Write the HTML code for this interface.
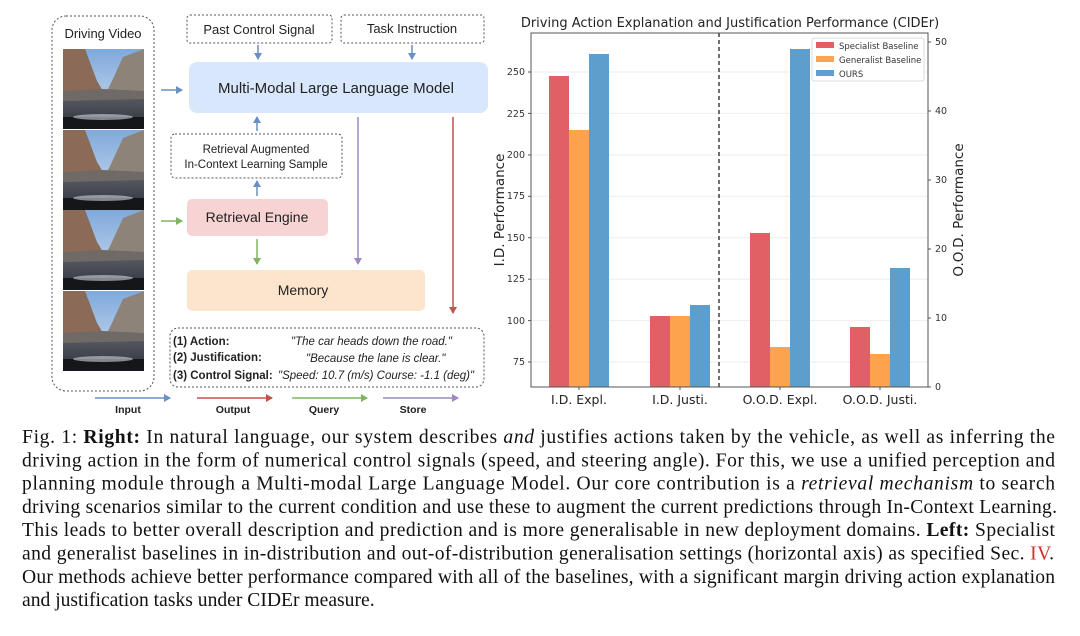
<!DOCTYPE html>
<html><head><meta charset="utf-8"><style>
html,body{margin:0;padding:0;background:#fff;}
svg{display:block;}
</style></head><body>
<svg width="1080" height="636" viewBox="0 0 1080 636" xmlns="http://www.w3.org/2000/svg">
<defs>
<linearGradient id="sky" x1="0" y1="0" x2="0" y2="1"><stop offset="0" stop-color="#7fa9dc"/><stop offset="1" stop-color="#d5e2ee"/></linearGradient>
<linearGradient id="road" x1="0" y1="0" x2="0" y2="1"><stop offset="0" stop-color="#5a5e66"/><stop offset="1" stop-color="#2e3038"/></linearGradient>
<g id="frame">
<rect x="0" y="0" width="81" height="80" fill="url(#sky)"/>
<polygon points="0,0 22,0 34,32 40,42 0,48" fill="#8b6b57"/>
<polygon points="81,0 60,8 48,34 44,42 81,52" fill="#8e8378"/>
<polygon points="0,45 81,45 81,80 0,80" fill="url(#road)"/>
<polygon points="0,42 40,40 81,42 81,50 0,52" fill="#6f6a66"/>
<rect x="0" y="68" width="81" height="12" fill="#15161a"/>
<ellipse cx="40" cy="68" rx="30" ry="3" fill="#cfd3da" opacity="0.6"/>
</g>
<marker id="aB" markerWidth="8" markerHeight="8" refX="6" refY="4" orient="auto" markerUnits="userSpaceOnUse"><path d="M0,0 L7,4 L0,8 Z" fill="#6b8fc2"/></marker>
<marker id="aR" markerWidth="8" markerHeight="8" refX="6" refY="4" orient="auto" markerUnits="userSpaceOnUse"><path d="M0,0 L7,4 L0,8 Z" fill="#c7504f"/></marker>
<marker id="aG" markerWidth="8" markerHeight="8" refX="6" refY="4" orient="auto" markerUnits="userSpaceOnUse"><path d="M0,0 L7,4 L0,8 Z" fill="#7fb562"/></marker>
<marker id="aP" markerWidth="8" markerHeight="8" refX="6" refY="4" orient="auto" markerUnits="userSpaceOnUse"><path d="M0,0 L7,4 L0,8 Z" fill="#9f88bd"/></marker>
</defs>

<!-- LEFT DIAGRAM -->
<g font-family="Liberation Sans, sans-serif" fill="#222">
<rect x="52" y="16" width="102" height="375" rx="14" fill="none" stroke="#555" stroke-dasharray="2,2"/>
<text x="103" y="38" font-size="13" text-anchor="middle">Driving Video</text>
<use href="#frame" x="63" y="49"/>
<use href="#frame" x="63" y="130"/>
<use href="#frame" x="63" y="210"/>
<use href="#frame" x="63" y="291"/>

<rect x="187" y="15" width="145" height="28" rx="3" fill="none" stroke="#555" stroke-dasharray="2,2"/>
<text x="259" y="34" font-size="13" text-anchor="middle">Past Control Signal</text>
<rect x="341" y="15" width="143" height="28" rx="3" fill="none" stroke="#555" stroke-dasharray="2,2"/>
<text x="412" y="33" font-size="13" text-anchor="middle">Task Instruction</text>

<rect x="189" y="62" width="299" height="51" rx="8" fill="#d8e7fb"/>
<text x="336" y="93" font-size="15" text-anchor="middle">Multi-Modal Large Language Model</text>

<rect x="171" y="134" width="171" height="44" rx="4" fill="none" stroke="#555" stroke-dasharray="2,2"/>
<text x="256" y="153" font-size="11.5" text-anchor="middle">Retrieval Augmented</text>
<text x="256" y="168" font-size="11.5" text-anchor="middle">In-Context Learning Sample</text>

<rect x="187" y="199" width="141" height="37" rx="5" fill="#f8d3d3"/>
<text x="257" y="222" font-size="14" text-anchor="middle">Retrieval  Engine</text>

<rect x="187" y="270" width="238" height="41" rx="5" fill="#fde5cd"/>
<text x="303" y="295" font-size="14" text-anchor="middle">Memory</text>

<rect x="170" y="328" width="314" height="59" rx="8" fill="none" stroke="#555" stroke-dasharray="2,2"/>
<g font-size="11.5">
<text x="173" y="345" font-weight="bold">(1) Action:</text>
<text x="291" y="345" font-style="italic">"The car heads down the road."</text>
<text x="173" y="361" font-weight="bold">(2) Justification:</text>
<text x="306" y="362" font-style="italic">"Because the lane is clear."</text>
<text x="173" y="379" font-weight="bold">(3) Control Signal:</text>
<text x="278" y="379" font-style="italic">"Speed:  10.7 (m/s) Course: -1.1 (deg)"</text>
</g>

<line x1="161" y1="90" x2="182" y2="90" stroke="#6b8fc2" stroke-width="1.5" marker-end="url(#aB)"/>
<line x1="258" y1="45" x2="258" y2="59" stroke="#6b8fc2" stroke-width="1.5" marker-end="url(#aB)"/>
<line x1="412" y1="45" x2="412" y2="59" stroke="#6b8fc2" stroke-width="1.5" marker-end="url(#aB)"/>
<line x1="257" y1="131" x2="257" y2="117" stroke="#6b8fc2" stroke-width="1.5" marker-end="url(#aB)"/>
<line x1="257" y1="196" x2="257" y2="181" stroke="#6b8fc2" stroke-width="1.5" marker-end="url(#aB)"/>
<line x1="161" y1="221" x2="182" y2="221" stroke="#7fb562" stroke-width="1.5" marker-end="url(#aG)"/>
<line x1="257" y1="239" x2="257" y2="264" stroke="#7fb562" stroke-width="1.5" marker-end="url(#aG)"/>
<line x1="358" y1="117" x2="358" y2="264" stroke="#9f88bd" stroke-width="1.5" marker-end="url(#aP)"/>
<line x1="453" y1="117" x2="453" y2="313" stroke="#c7504f" stroke-width="1.5" marker-end="url(#aR)"/>

<line x1="95" y1="398" x2="170" y2="398" stroke="#6b8fc2" stroke-width="1.5" marker-end="url(#aB)"/>
<line x1="197" y1="398" x2="272" y2="398" stroke="#c7504f" stroke-width="1.5" marker-end="url(#aR)"/>
<line x1="292" y1="398" x2="367" y2="398" stroke="#7fb562" stroke-width="1.5" marker-end="url(#aG)"/>
<line x1="383" y1="398" x2="458" y2="398" stroke="#9f88bd" stroke-width="1.5" marker-end="url(#aP)"/>
<g font-size="10.5" font-weight="bold" text-anchor="middle">
<text x="128" y="413">Input</text>
<text x="233" y="413">Output</text>
<text x="324" y="413">Query</text>
<text x="413" y="413">Store</text>
</g>
</g>

<!-- CHART -->
<g font-family="DejaVu Sans, sans-serif" fill="#333">
<text x="730" y="27" font-size="13" text-anchor="middle" fill="#222">Driving Action Explanation and Justification Performance (CIDEr)</text>
<g stroke="#eee" stroke-width="1">
<line x1="531" x2="928" y1="362" y2="362"/><line x1="531" x2="928" y1="320.6" y2="320.6"/>
<line x1="531" x2="928" y1="279.2" y2="279.2"/><line x1="531" x2="928" y1="237.7" y2="237.7"/>
<line x1="531" x2="928" y1="196.3" y2="196.3"/><line x1="531" x2="928" y1="154.9" y2="154.9"/>
<line x1="531" x2="928" y1="113.4" y2="113.4"/><line x1="531" x2="928" y1="72" y2="72"/>
</g>
<g>
<rect x="549" y="76" width="20" height="311" fill="#e06066"/>
<rect x="569" y="130" width="20" height="257" fill="#fca34c"/>
<rect x="589" y="54" width="20" height="333" fill="#5d9ecd"/>
<rect x="650" y="316" width="20" height="71" fill="#e06066"/>
<rect x="670" y="316" width="20" height="71" fill="#fca34c"/>
<rect x="690" y="305" width="20" height="82" fill="#5d9ecd"/>
<rect x="750" y="233" width="20" height="154" fill="#e06066"/>
<rect x="770" y="347" width="20" height="40" fill="#fca34c"/>
<rect x="790" y="49" width="20" height="338" fill="#5d9ecd"/>
<rect x="850" y="327" width="20" height="60" fill="#e06066"/>
<rect x="870" y="354" width="20" height="33" fill="#fca34c"/>
<rect x="890" y="268" width="20" height="119" fill="#5d9ecd"/>
</g>
<line x1="719" y1="33" x2="719" y2="387" stroke="#222" stroke-width="1.3" stroke-dasharray="4,3"/>
<rect x="531" y="33" width="397" height="354" fill="none" stroke="#555" stroke-width="1"/>
<g font-size="9.5" text-anchor="end">
<text x="525" y="365">75</text><text x="525" y="324">100</text><text x="525" y="282">125</text>
<text x="525" y="241">150</text><text x="525" y="199">175</text><text x="525" y="158">200</text>
<text x="525" y="117">225</text><text x="525" y="75">250</text>
</g>
<g stroke="#555"><line x1="528" x2="531" y1="362" y2="362"/><line x1="528" x2="531" y1="320.6" y2="320.6"/><line x1="528" x2="531" y1="279.2" y2="279.2"/><line x1="528" x2="531" y1="237.7" y2="237.7"/><line x1="528" x2="531" y1="196.3" y2="196.3"/><line x1="528" x2="531" y1="154.9" y2="154.9"/><line x1="528" x2="531" y1="113.4" y2="113.4"/><line x1="528" x2="531" y1="72" y2="72"/>
<line x1="928" x2="931" y1="387" y2="387"/><line x1="928" x2="931" y1="318" y2="318"/><line x1="928" x2="931" y1="249" y2="249"/><line x1="928" x2="931" y1="180" y2="180"/><line x1="928" x2="931" y1="111" y2="111"/><line x1="928" x2="931" y1="42" y2="42"/>
<line x1="579" x2="579" y1="387" y2="390"/><line x1="680" x2="680" y1="387" y2="390"/><line x1="780" x2="780" y1="387" y2="390"/><line x1="880" x2="880" y1="387" y2="390"/></g>
<g font-size="9.5">
<text x="935" y="390">0</text><text x="935" y="321">10</text><text x="935" y="252">20</text>
<text x="935" y="183">30</text><text x="935" y="114">40</text><text x="935" y="45">50</text>
</g>
<g font-size="12.5" text-anchor="middle" fill="#222">
<text x="579" y="404">I.D. Expl.</text><text x="680" y="404">I.D. Justi.</text>
<text x="780" y="404">O.O.D. Expl.</text><text x="880" y="404">O.O.D. Justi.</text>
</g>
<text transform="translate(504,210) rotate(-90)" font-size="13.5" text-anchor="middle" fill="#222">I.D. Performance</text>
<text transform="translate(963,210) rotate(-90)" font-size="13.5" text-anchor="middle" fill="#222">O.O.D. Performance</text>
<rect x="812" y="38" width="112" height="43" fill="#fff" stroke="#ddd" rx="2"/>
<rect x="816" y="42" width="18" height="6" fill="#e06066"/>
<rect x="816" y="56" width="18" height="6" fill="#fca34c"/>
<rect x="816" y="70" width="18" height="6" fill="#5d9ecd"/>
<g font-size="8.5" fill="#333">
<text x="839" y="49">Specialist Baseline</text>
<text x="839" y="63">Generalist Baseline</text>
<text x="839" y="77">OURS</text>
</g>
</g>

<!-- CAPTION -->
<g font-family="Liberation Serif, serif" font-size="19.6" fill="#111">
<text x="22" y="443" textLength="1033" lengthAdjust="spacing">Fig. 1:  <tspan font-weight="bold">Right:</tspan> In natural language, our system describes <tspan font-style="italic">and</tspan> justifies actions taken by the vehicle, as well as inferring the</text>
<text x="22" y="466.3" textLength="1033" lengthAdjust="spacing">driving action in the form of numerical control signals (speed, and steering angle). For this, we use a unified perception and</text>
<text x="22" y="489.6" textLength="1033" lengthAdjust="spacing">planning module through a Multi-modal Large Language Model. Our core contribution is a <tspan font-style="italic">retrieval mechanism</tspan> to search</text>
<text x="22" y="512.9" textLength="1035" lengthAdjust="spacing">driving scenarios similar to the current condition and use these to augment the current predictions through In-Context Learning.</text>
<text x="22" y="536.2" textLength="1033" lengthAdjust="spacing">This leads to better overall description and prediction and is more generalisable in new deployment domains. <tspan font-weight="bold">Left:</tspan> Specialist</text>
<text x="22" y="559.5" textLength="1032" lengthAdjust="spacing">and generalist baselines in in-distribution and out-of-distribution generalisation settings (horizontal axis) as specified Sec. <tspan fill="#d0302a">IV</tspan>.</text>
<text x="22" y="582.8" textLength="1033" lengthAdjust="spacing">Our methods achieve better performance compared with all of the baselines, with a significant margin driving action explanation</text>
<text x="22" y="606.1">and justification tasks under CIDEr measure.</text>
</g>
</svg>
</body></html>
